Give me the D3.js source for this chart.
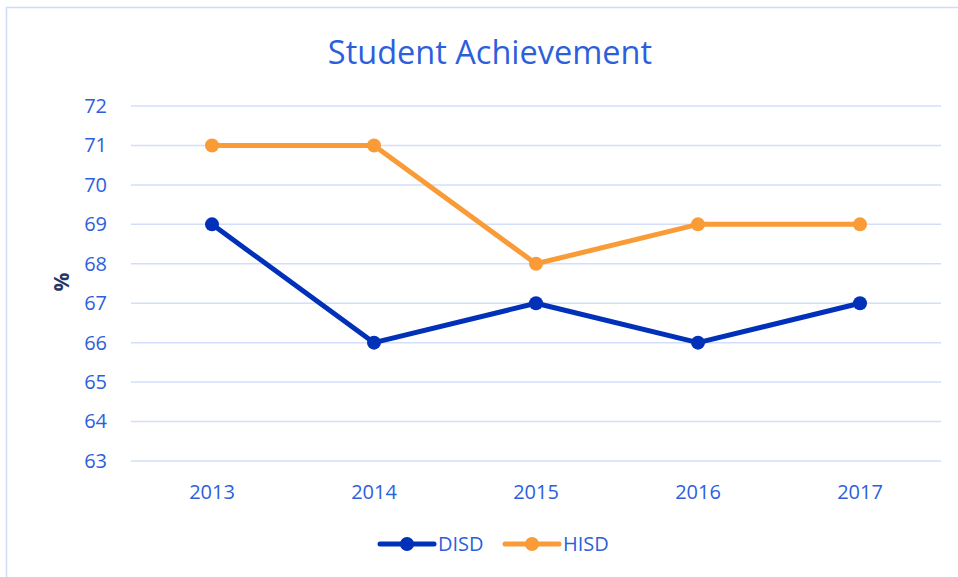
<!DOCTYPE html>
<html>
<head>
<meta charset="utf-8">
<script src="https://cdn.jsdelivr.net/npm/d3@7"></script>
<style>
  body { margin: 0; background: #fff; }
  text { font-family: "Open Sans", "Noto Sans", sans-serif; }
</style>
</head>
<body>
<div id="chart"></div>
<script>
const years = ["2013", "2014", "2015", "2016", "2017"];
const disd = [69, 66, 67, 66, 67];
const hisd = [71, 71, 68, 69, 69];
const yTicks = [63, 64, 65, 66, 67, 68, 69, 70, 71, 72];

const width = 958, height = 577;
const margin = { top: 106, right: 17, bottom: 116, left: 131 };
const innerW = width - margin.left - margin.right,
      innerH = height - margin.top - margin.bottom;

const svg = d3.select("#chart")
  .append("svg")
    .attr("width", width)
    .attr("height", height);

// outer frame, runs off the right and bottom edges
svg.append("rect")
  .attr("x", 6.5).attr("y", 7.5)
  .attr("width", 1000).attr("height", 700)
  .attr("fill", "none")
  .attr("stroke", "#d0dcf5")
  .attr("stroke-width", 1.5);

svg.append("text")
  .attr("x", 490).attr("y", 64)
  .attr("text-anchor", "middle")
  .attr("fill", "#2d5fdc")
  .attr("font-size", 32.5)
  .text("Student Achievement");

const g = svg.append("g")
  .attr("transform", `translate(${margin.left},${margin.top})`);

const x = d3.scaleBand().domain(years).range([0, innerW]);
const y = d3.scaleLinear().domain([63, 72]).range([innerH, 0]);

// gridlines
g.append("g")
  .selectAll("line")
  .data(yTicks)
  .join("line")
    .attr("x1", 0).attr("x2", innerW)
    .attr("y1", d => y(d)).attr("y2", d => y(d))
    .attr("stroke", "#d3defa")
    .attr("stroke-width", 1.5);

const yAxis = g.append("g")
  .call(d3.axisLeft(y).tickValues(yTicks).tickSize(0).tickPadding(24));
yAxis.select(".domain").remove();
yAxis.selectAll("text")
  .attr("fill", "#2d5fdc")
  .attr("font-size", 20)
  .attr("font-family", null);

const xAxis = g.append("g")
  .attr("transform", `translate(0,${innerH})`)
  .call(d3.axisBottom(x).tickSize(0).tickPadding(24));
xAxis.select(".domain").remove();
xAxis.selectAll("text")
  .attr("fill", "#2d5fdc")
  .attr("font-size", 20)
  .attr("font-family", null);

svg.append("text")
  .attr("transform", "translate(69,282) rotate(-90)")
  .attr("text-anchor", "middle")
  .attr("fill", "#1f3864")
  .attr("font-size", 21)
  .attr("font-weight", "bold")
  .text("%");

const series = [
  { name: "DISD", values: disd, color: "#0031b8" },
  { name: "HISD", values: hisd, color: "#f99c38" }
];

const line = d3.line()
  .x((d, i) => x(years[i]) + x.bandwidth() / 2)
  .y(d => y(d));

series.forEach(s => {
  g.append("path")
    .datum(s.values)
    .attr("fill", "none")
    .attr("stroke", s.color)
    .attr("stroke-width", 5)
    .attr("stroke-linejoin", "round")
    .attr("d", line);
  g.selectAll(null)
    .data(s.values)
    .join("circle")
      .attr("cx", (d, i) => x(years[i]) + x.bandwidth() / 2)
      .attr("cy", d => y(d))
      .attr("r", 7)
      .attr("fill", s.color);
});

// legend
const legend = svg.append("g").attr("transform", "translate(380,544)");
const legendItem = legend.selectAll("g")
  .data(series)
  .join("g")
    .attr("transform", (d, i) => `translate(${i * 125},0)`);
legendItem.append("line")
  .attr("x1", 0).attr("x2", 54)
  .attr("stroke", d => d.color)
  .attr("stroke-width", 5)
  .attr("stroke-linecap", "round");
legendItem.append("circle")
  .attr("cx", 27).attr("r", 7)
  .attr("fill", d => d.color);
legendItem.append("text")
  .attr("x", 58).attr("y", 7)
  .attr("fill", "#2d5fdc")
  .attr("font-size", 20)
  .text(d => d.name);
</script>
</body>
</html>
